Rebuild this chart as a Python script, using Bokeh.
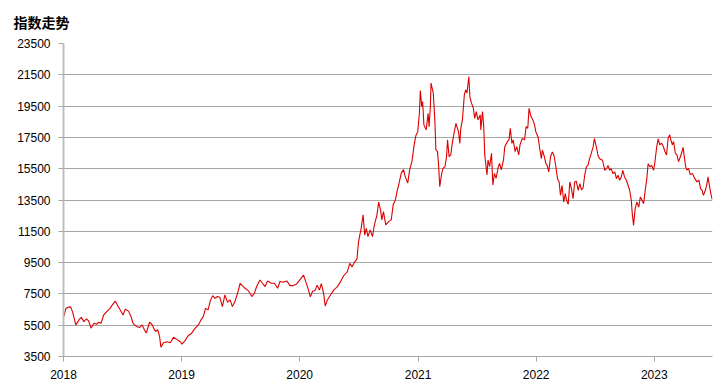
import pandas as pd
from datetime import datetime
from bokeh.plotting import figure
from bokeh.models import Range1d, FixedTicker, DatetimeTickFormatter, ColumnDataSource
from bokeh.embed import file_html
from bokeh.resources import INLINE

title_text = "指数走势"
year_ticks = ["2018", "2019", "2020", "2021", "2022", "2023"]
y_ticks = [3500, 5500, 7500, 9500, 11500, 13500, 15500, 17500, 19500, 21500, 23500]

d2018 = ["01-02", "01-08", "01-15", "01-23", "01-29", "02-08", "02-19", "02-25", "03-05", "03-13",
         "03-20", "03-27", "04-05", "04-13", "04-20", "04-27", "05-05", "05-14", "05-24", "05-31",
         "06-10", "06-18", "06-26", "07-04", "07-11", "07-21", "07-29", "08-04", "08-14", "08-24",
         "09-01", "09-08", "09-14", "09-24", "10-01", "10-12", "10-19", "10-25", "10-29", "11-06",
         "11-17", "11-27", "12-07", "12-18", "12-28"]
v2018 = [6050, 6550, 6650, 6670, 6350, 5520, 5875, 6000, 5730, 5900,
         5770, 5310, 5620, 5560, 5690, 5620, 6150, 6350, 6560, 6770,
         7040, 6730, 6460, 6150, 6520, 6400, 6040, 5620, 5420, 5350,
         5520, 5210, 5000, 5690, 5560, 5100, 5210, 4790, 4100, 4380,
         4440, 4380, 4730, 4580, 4440]

d2019 = ["01-02", "01-11", "01-22", "02-01", "02-12", "02-22", "03-02", "03-09", "03-16", "03-24",
         "03-30", "04-07", "04-14", "04-22", "04-29", "05-07", "05-15", "05-23", "05-31", "06-07",
         "06-15", "06-23", "07-01", "07-08", "07-16", "07-27", "08-06", "08-14", "08-21", "08-31",
         "09-08", "09-16", "09-24", "10-05", "10-15", "10-25", "11-01", "11-11", "11-22", "12-02",
         "12-12", "12-22", "12-30"]
v2019 = [4290, 4500, 4840, 4990, 5310, 5520, 5840, 6050, 6580, 6480,
         7010, 7390, 7220, 7330, 7290, 6690, 7440, 6970, 7120, 6690,
         7010, 7540, 8180, 8030, 7860, 7690, 7330, 7540, 7970, 8390,
         8180, 7970, 8330, 8180, 8180, 7860, 8290, 8240, 8330, 8030,
         8030, 8120, 8330]

d2020 = ["01-03", "01-13", "01-20", "01-27", "02-03", "02-10", "02-18", "02-24", "03-02", "03-08",
         "03-15", "03-20", "03-26", "04-05", "04-15", "04-26", "05-06", "05-16", "05-27", "06-04",
         "06-11", "06-19", "06-26", "07-01", "07-09", "07-15", "07-20", "07-25", "07-30", "08-06",
         "08-13", "08-19", "08-27", "09-01", "09-07", "09-11", "09-16", "09-23", "10-02", "10-10",
         "10-16", "10-23", "10-28", "11-02", "11-10", "11-17", "11-22", "11-30", "12-06", "12-13",
         "12-20", "12-25", "12-31"]
v2020 = [8440, 8700, 8270, 7840, 7310, 7670, 7740, 8060, 7740, 8160,
         7520, 6730, 7090, 7410, 7740, 7950, 8270, 8660, 8910, 9450,
         9230, 9550, 9720, 10840, 11690, 12550, 11260, 11690, 11160, 11590,
         11160, 11910, 12550, 13360, 12870, 12230, 12760, 11910, 12120, 12230,
         13190, 13510, 14050, 14470, 15220, 15440, 15010, 14580, 15440, 15970,
         17040, 17600, 17870]

d2021 = ["01-05", "01-08", "01-12", "01-15", "01-19", "01-26", "02-01", "02-04", "02-08", "02-10",
         "02-17", "02-22", "02-25", "03-02", "03-05", "03-09", "03-15", "03-19", "03-25", "03-30",
         "04-02", "04-07", "04-12", "04-16", "04-22", "04-28", "05-06", "05-10", "05-13", "05-18",
         "05-24", "05-28", "06-01", "06-07", "06-10", "06-15", "06-21", "06-25", "06-30", "07-05",
         "07-12", "07-14", "07-19", "07-23", "07-26", "08-02", "08-05", "08-10", "08-16", "08-20",
         "08-25", "08-30", "09-06", "09-10", "09-15", "09-22", "09-26", "10-04", "10-09", "10-13",
         "10-18", "10-22", "10-28", "11-02", "11-08", "11-12", "11-19", "11-26", "12-01", "12-06",
         "12-10", "12-16", "12-22", "12-27", "12-31"]
v2021 = [19040, 20500, 19470, 19790, 18300, 17980, 19040, 18190, 19470, 20970,
         20330, 18510, 16700, 16590, 15840, 14350, 15200, 15520, 15630, 16270,
         17340, 16270, 16380, 17020, 17760, 18400, 17870, 17120, 18080, 18620,
         20220, 20540, 20330, 21390, 20110, 19690, 19360, 18720, 19150, 18620,
         18940, 17980, 19150, 18190, 16380, 15100, 16060, 15630, 16480, 14460,
         15200, 14880, 15630, 15840, 15420, 16060, 16910, 17230, 17340, 18080,
         17120, 17340, 16590, 16910, 16380, 17020, 17440, 17340, 18190, 18080,
         19360, 18830, 18600, 18300, 17850]

d2022 = ["01-07", "01-12", "01-17", "01-20", "01-25", "01-31", "02-04", "02-09", "02-14", "02-20",
         "02-25", "03-03", "03-08", "03-13", "03-17", "03-22", "03-27", "04-01", "04-05", "04-10",
         "04-15", "04-20", "04-25", "04-30", "05-05", "05-11", "05-16", "05-21", "05-26", "05-31",
         "06-05", "06-10", "06-15", "06-20", "06-26", "06-30", "07-06", "07-11", "07-16", "07-25",
         "08-01", "08-06", "08-11", "08-16", "08-21", "08-26", "09-01", "09-06", "09-11", "09-16",
         "09-21", "09-26", "10-01", "10-07", "10-12", "10-17", "10-22", "10-25", "10-29", "11-03",
         "11-08", "11-14", "11-19", "11-24", "11-29", "12-04", "12-09", "12-13", "12-19", "12-24",
         "12-30"]
v2022 = [17530, 16790, 16140, 16680, 16360, 15820, 15710, 15290, 16250, 16570,
         16360, 15610, 14860, 14650, 13800, 14440, 13370, 13910, 13480, 13220,
         14650, 14230, 13590, 14650, 14700, 14120, 14540, 14150, 14280, 15080,
         15610, 15710, 16140, 16460, 16890, 17420, 16890, 16360, 16140, 16040,
         15400, 15500, 15710, 15400, 15500, 15190, 15290, 14860, 15080, 14760,
         14970, 15400, 14970, 14760, 14440, 14120, 13480, 12630, 11880, 12950,
         13370, 13050, 13690, 13480, 13270, 14120, 14860, 15820, 15610, 15710,
         15400]

d2023 = ["01-03", "01-08", "01-13", "01-18", "01-24", "01-29", "02-03", "02-08", "02-13", "02-18",
         "02-21", "02-26", "03-02", "03-07", "03-12", "03-17", "03-23", "03-28", "03-31", "04-08",
         "04-12", "04-17", "04-22", "04-29", "05-06", "05-13", "05-19", "05-24", "05-29", "06-02",
         "06-08", "06-13", "06-16", "06-21", "06-26", "06-29"]
v2023 = [15930, 16810, 17410, 17030, 17130, 16920, 16600, 16380, 17460, 17670,
         17350, 17030, 17240, 16490, 16380, 15950, 16280, 16600, 16860, 15630,
         15410, 15520, 15130, 15200, 14880, 14660, 14770, 14230, 14120, 13800,
         14120, 14550, 14980, 14340, 13800, 13540]

series = [("2018", d2018, v2018), ("2019", d2019, v2019), ("2020", d2020, v2020),
          ("2021", d2021, v2021), ("2022", d2022, v2022), ("2023", d2023, v2023)]
dates, values = [], []
for yr, ds, vs in series:
    dates += [pd.Timestamp(f"{yr}-{d}") for d in ds]
    values += vs

src = ColumnDataSource(dict(x=dates, y=values))

p = figure(width=720, height=385, x_axis_type="datetime", output_backend="svg",
           toolbar_location=None,
           x_range=Range1d(datetime(2018, 1, 1), datetime(2023, 6, 30)),
           y_range=Range1d(3500, 23500),
           min_border_left=63, min_border_right=8, min_border_top=43, min_border_bottom=29)

p.title.text = title_text
p.title.align = "left"
p.title.vertical_align = "top"
p.title.offset = -50
p.title.standoff = 20
p.title.text_font = "Noto Sans CJK SC"
p.title.text_font_size = "14px"
p.title.text_font_style = "bold"
p.title.text_color = "#000000"

p.line("x", "y", source=src, line_color="#dd0000", line_width=1.1)

p.outline_line_color = None
p.xgrid.grid_line_color = None
p.ygrid.grid_line_color = "#a6a6a6"
p.ygrid.grid_line_width = 1
p.yaxis.ticker = FixedTicker(ticks=y_ticks)
p.xaxis.ticker = FixedTicker(ticks=[pd.Timestamp(f"{y}-01-01").value // 10**6 for y in year_ticks])
p.xaxis.formatter = DatetimeTickFormatter(years="%Y", months="%Y", days="%Y", hours="%Y",
                                          minutes="%Y", seconds="%Y", milliseconds="%Y",
                                          microseconds="%Y", hourmin="%Y", minsec="%Y")

for ax in (p.xaxis, p.yaxis):
    ax.axis_line_color = "#a6a6a6"
    ax.major_tick_line_color = "#a6a6a6"
    ax.major_tick_in = 0
    ax.major_tick_out = 5
    ax.minor_tick_line_color = None
    ax.major_label_text_font = "Liberation Sans"
    ax.major_label_text_font_size = "12px"
    ax.major_label_text_color = "#000000"
    ax.major_label_standoff = 8
p.yaxis.axis_line_color = "#bfbfbf"
p.yaxis.axis_line_width = 2

open("out.html", "w").write(file_html(p, INLINE))
